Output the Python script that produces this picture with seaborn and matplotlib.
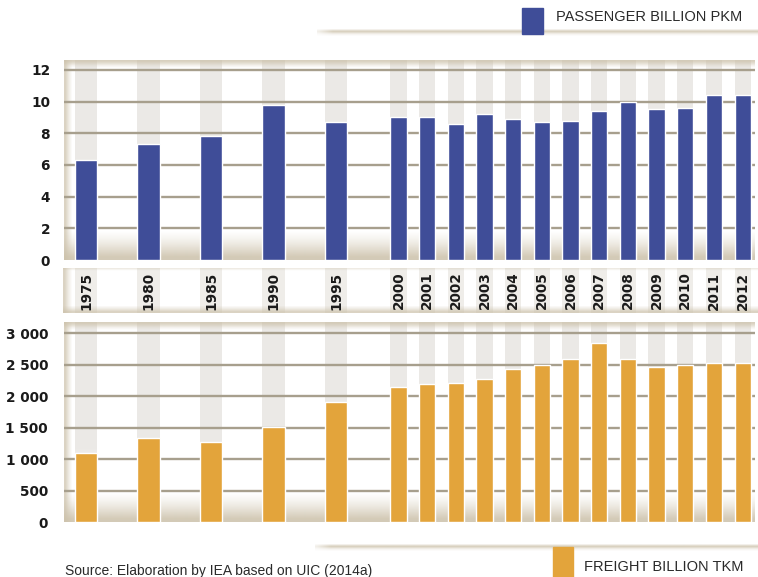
import numpy as np
import pandas as pd
import matplotlib
matplotlib.use("Agg")
import matplotlib.pyplot as plt
from matplotlib import font_manager as fm
from matplotlib.patches import Rectangle
import seaborn as sns

# ---- data -------------------------------------------------------------
years = ["1975", "1980", "1985", "1990", "1995",
         "2000", "2001", "2002", "2003", "2004", "2005", "2006",
         "2007", "2008", "2009", "2010", "2011", "2012"]
passenger_pkm = [6.3, 7.3, 7.8, 9.8, 8.7,
                 9.05, 9.05, 8.6, 9.2, 8.9, 8.7, 8.8,
                 9.4, 10.0, 9.55, 9.6, 10.4, 10.4]
freight_tkm = [1095, 1335, 1265, 1510, 1900,
               2145, 2185, 2200, 2270, 2430, 2495, 2590,
               2835, 2590, 2465, 2485, 2525, 2525]
passenger_ticks = [0, 2, 4, 6, 8, 10, 12]
freight_ticks = [0, 500, 1000, 1500, 2000, 2500, 3000]
legend_passenger = "PASSENGER BILLION PKM"
legend_freight = "FREIGHT BILLION TKM"
source_note = "Source: Elaboration by IEA based on UIC (2014a)"

# ---- layout -----------------------------------------------------------
W, H = 758, 577
BLUE = "#3f4d98"
ORANGE = "#e3a43b"
GRID = "#a79f8d"
BEIGE = (0.80, 0.76, 0.67)
STRIPE = "#ebe9e6"

n_early = 5                       # five-yearly columns before 2000
early_step = 2.18                 # wider slot spacing for the five-yearly part
x_pos = np.r_[np.arange(n_early) * early_step,
              n_early * early_step + np.arange(len(years) - n_early)]
w_early, w_late = 0.77, 0.56      # bar widths in slot units
bar_w = np.r_[np.full(n_early, w_early), np.full(len(years) - n_early, w_late)]
px_per_unit = 28.67
x_left = -0.767

df = pd.DataFrame({"year": years, "pos": x_pos,
                   "passenger": passenger_pkm, "freight": freight_tkm})
early = df.iloc[:n_early]
late = df.iloc[n_early:]

sns.set_theme(style="white")
plt.rcParams["font.family"] = ["DejaVu Sans"]

available = {f.name for f in fm.fontManager.ttflist}
if "Liberation Sans Narrow" in available:
    leg_family, leg_size = "Liberation Sans Narrow", 12.5
else:
    leg_family, leg_size = "Liberation Sans", 10.5

fig = plt.figure(figsize=(W / 100, H / 100), dpi=100)


def rect(x0, y_top, x1, y_bot):
    return [x0 / W, 1 - y_bot / H, (x1 - x0) / W, (y_bot - y_top) / H]


def gradient(ax, extent, rgb, alphas, vertical=True, transform=None, z=0.8):
    a = np.asarray(alphas, dtype=float)
    if vertical:
        img = np.zeros((len(a), 1, 4))
        img[:, 0, :3] = rgb
        img[:, 0, 3] = a
    else:
        img = np.zeros((1, len(a), 4))
        img[0, :, :3] = rgb
        img[0, :, 3] = a
    ax.imshow(img, extent=extent, origin="upper", aspect="auto",
              interpolation="bilinear", zorder=z,
              transform=transform if transform is not None else ax.transData)


def style_panel(ax, ymax, ticks, fmt, pad):
    trans = ax.transAxes
    # column stripes behind each bar
    for p, w in zip(x_pos, bar_w):
        ax.axvspan(p - w / 2, p + w / 2, color=STRIPE, lw=0, zorder=0.3)
    # fade the stripes out toward the baseline
    gradient(ax, (0, 1, 0.0, 0.45), (1, 1, 1), [0.0, 0.5, 0.9], transform=trans, z=0.5)
    # framing shades: top band, bottom shadow, left edge
    gradient(ax, (0, 1, 0.955, 1.0), BEIGE, [0.75, 0.5, 0.2, 0.0], transform=trans)
    gradient(ax, (0, 1, 0.0, 0.16), BEIGE, [0.0, 0.15, 0.35, 0.6, 0.85], transform=trans)
    gradient(ax, (0, 0.014, 0, 1), BEIGE, [0.7, 0.3, 0.0], vertical=False, transform=trans)
    for t in ticks[1:]:
        ax.axhline(t, color=GRID, lw=1.7, zorder=1)
    ax.set_xlim(x_left, x_left + 691 / px_per_unit)
    ax.set_ylim(0, ymax)
    ax.set_yticks(ticks)
    ax.set_yticklabels([fmt(t) for t in ticks], fontsize=9.8, fontweight="bold",
                       color="#1a1a1a")
    ax.tick_params(axis="y", length=0, pad=pad)
    ax.set_xticks([])
    ax.set_xlabel("")
    ax.set_ylabel("")
    for s in ax.spines.values():
        s.set_visible(False)


# ---- passenger panel --------------------------------------------------
ax1 = fig.add_axes(rect(64, 60, 755, 260))
sns.barplot(data=early, x="pos", y="passenger", native_scale=True,
            width=w_early / early_step, color=BLUE, saturation=1,
            errorbar=None, ax=ax1, zorder=2)
sns.barplot(data=late, x="pos", y="passenger", native_scale=True,
            width=w_late, color=BLUE, saturation=1,
            errorbar=None, ax=ax1, zorder=2)
style_panel(ax1, 12.63, passenger_ticks, lambda v: f"{v:d}", 10)

# ---- freight panel ----------------------------------------------------
ax2 = fig.add_axes(rect(64, 322, 755, 522))
sns.barplot(data=early, x="pos", y="freight", native_scale=True,
            width=w_early / early_step, color=ORANGE, saturation=1,
            errorbar=None, ax=ax2, zorder=2)
sns.barplot(data=late, x="pos", y="freight", native_scale=True,
            width=w_late, color=ORANGE, saturation=1,
            errorbar=None, ax=ax2, zorder=2)
style_panel(ax2, 3175, freight_ticks,
            lambda v: f"{v:,d}".replace(",", " "), 11.5)

# ---- year label strip -------------------------------------------------
ax3 = fig.add_axes(rect(63, 268, 758, 313))
for p, w in zip(x_pos, bar_w):
    ax3.axvspan(p - w / 2, p + w / 2, color="#efede9", lw=0, zorder=0.3)
gradient(ax3, (0, 1, 0.0, 0.2), BEIGE, [0.0, 0.3, 0.7], transform=ax3.transAxes)
gradient(ax3, (0, 1, 0.9, 1.0), BEIGE, [0.35, 0.0], transform=ax3.transAxes)
gradient(ax3, (0, 0.015, 0, 1), BEIGE, [0.7, 0.3, 0.0], vertical=False,
         transform=ax3.transAxes)
for p, y in zip(x_pos, years):
    ax3.text(p, 0.5, y, rotation=90, ha="center", va="center",
             fontsize=9.8, fontweight="bold", color="#1a1a1a",
             transform=ax3.get_xaxis_transform(), zorder=3)
x3_left = x_left - 1 / px_per_unit
ax3.set_xlim(x3_left, x3_left + 695 / px_per_unit)
ax3.set_ylim(0, 1)
ax3.axis("off")

# ---- legend keys, rules and note --------------------------------------
ov = fig.add_axes([0, 0, 1, 1], zorder=5)
ov.patch.set_alpha(0)


def Y(py):
    return H - py


shade = [0.0, 0.35, 0.8, 0.55, 0.25, 0.08, 0.0]
gradient(ov, (317, W, Y(37), Y(28)), BEIGE, shade, z=1)
gradient(ov, (300, 340, Y(37), Y(28)), (1, 1, 1), [1.0, 0.6, 0.0], vertical=False, z=1.1)
gradient(ov, (315, W, Y(552), Y(543)), BEIGE, shade, z=1)
gradient(ov, (298, 338, Y(552), Y(543)), (1, 1, 1), [1.0, 0.6, 0.0], vertical=False, z=1.1)

ov.add_patch(Rectangle((522, Y(34)), 21, 26, color=BLUE, zorder=3))
ov.text(556, Y(17), legend_passenger, family=[leg_family, "DejaVu Sans"],
        fontsize=leg_size, color="#2a2a2a", va="center", ha="left", zorder=3)
ov.add_patch(Rectangle((553, Y(580)), 20, 33, color=ORANGE, zorder=3))
ov.text(584, Y(567), legend_freight, family=[leg_family, "DejaVu Sans"],
        fontsize=leg_size, color="#2a2a2a", va="center", ha="left", zorder=3)
ov.text(65, Y(575), source_note, family=["Liberation Sans", "DejaVu Sans"],
        fontsize=10, color="#2a2a2a", va="baseline", ha="left", zorder=3)
ov.set_xlim(0, W)
ov.set_ylim(0, H)
ov.axis("off")

fig.savefig("out.png", dpi=100, facecolor="white")
